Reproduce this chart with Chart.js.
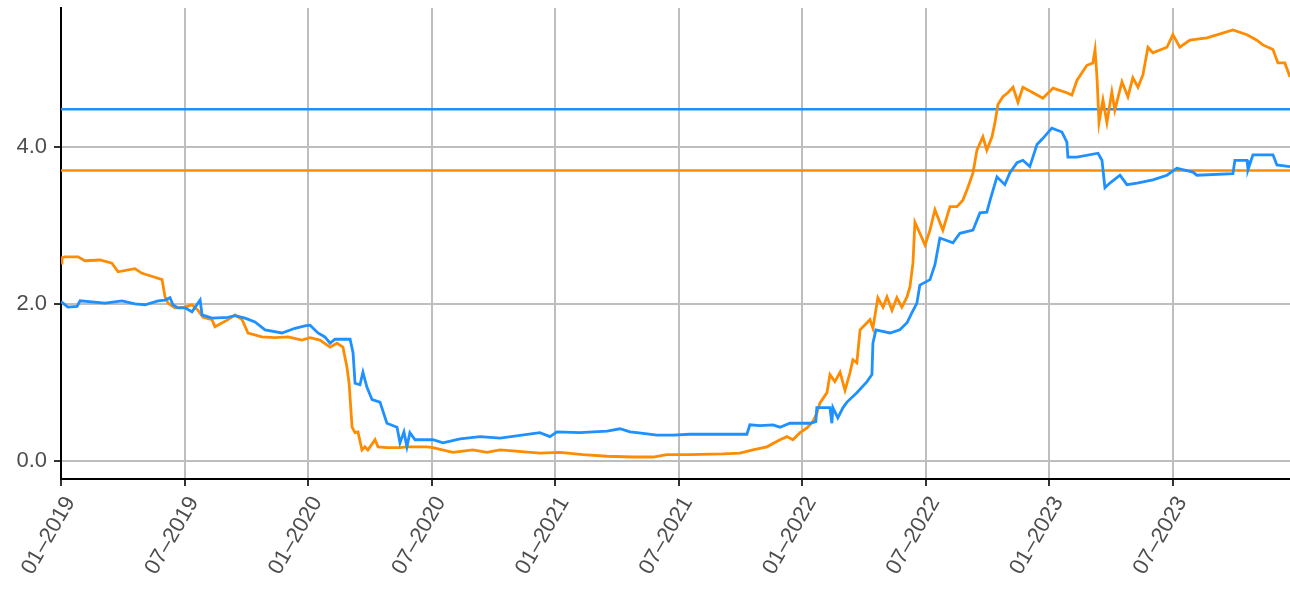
<!DOCTYPE html>
<html>
<head>
<meta charset="utf-8">
<script src="https://cdn.jsdelivr.net/npm/chart.js@4"></script>
<style>
  html, body { margin: 0; padding: 0; background: #fff; }
  #wrap { width: 1290px; height: 589px; }
</style>
</head>
<body>
<div id="wrap"><canvas id="rates" width="1290" height="589"></canvas></div>
<script>
// x = decimal year, y = rate
const orangeSeries = [
  [2019.000, 2.52], [2019.004, 2.59], [2019.016, 2.60], [2019.069, 2.60], [2019.097, 2.55],
  [2019.158, 2.56], [2019.206, 2.52], [2019.231, 2.41], [2019.299, 2.45], [2019.328, 2.39],
  [2019.380, 2.34], [2019.409, 2.31], [2019.421, 2.09], [2019.433, 2.01], [2019.461, 1.95],
  [2019.502, 1.96], [2019.530, 1.99], [2019.554, 1.92], [2019.575, 1.83], [2019.611, 1.80],
  [2019.623, 1.71], [2019.676, 1.80], [2019.704, 1.86], [2019.733, 1.80], [2019.757, 1.63],
  [2019.813, 1.58], [2019.866, 1.57], [2019.919, 1.58], [2019.975, 1.54], [2020.008, 1.57],
  [2020.048, 1.54], [2020.089, 1.45], [2020.117, 1.50], [2020.141, 1.45], [2020.157, 1.20],
  [2020.166, 0.99], [2020.178, 0.43], [2020.190, 0.36], [2020.202, 0.37], [2020.218, 0.14],
  [2020.230, 0.18], [2020.242, 0.14], [2020.271, 0.27], [2020.283, 0.18], [2020.319, 0.17],
  [2020.372, 0.17], [2020.400, 0.18], [2020.481, 0.18], [2020.505, 0.17], [2020.586, 0.11],
  [2020.667, 0.14], [2020.724, 0.11], [2020.777, 0.14], [2020.938, 0.10], [2021.019, 0.11],
  [2021.113, 0.08], [2021.210, 0.06], [2021.315, 0.05], [2021.396, 0.05], [2021.452, 0.08],
  [2021.545, 0.08], [2021.679, 0.09], [2021.748, 0.10], [2021.800, 0.14], [2021.857, 0.18],
  [2021.910, 0.27], [2021.938, 0.31], [2021.962, 0.27], [2021.991, 0.36], [2022.019, 0.42],
  [2022.043, 0.50], [2022.059, 0.61], [2022.072, 0.74], [2022.100, 0.87], [2022.112, 1.10],
  [2022.132, 1.01], [2022.153, 1.13], [2022.173, 0.90], [2022.193, 1.12], [2022.205, 1.29],
  [2022.221, 1.25], [2022.234, 1.67], [2022.262, 1.76], [2022.274, 1.80], [2022.286, 1.69],
  [2022.306, 2.08], [2022.327, 1.96], [2022.343, 2.09], [2022.363, 1.92], [2022.383, 2.08],
  [2022.403, 1.96], [2022.424, 2.09], [2022.436, 2.22], [2022.448, 2.52], [2022.456, 3.04],
  [2022.476, 2.90], [2022.497, 2.75], [2022.517, 2.94], [2022.537, 3.20], [2022.569, 2.94],
  [2022.598, 3.24], [2022.626, 3.24], [2022.650, 3.32], [2022.671, 3.49], [2022.691, 3.67],
  [2022.707, 3.96], [2022.731, 4.13], [2022.747, 3.96], [2022.768, 4.13], [2022.780, 4.31],
  [2022.792, 4.54], [2022.812, 4.64], [2022.832, 4.69], [2022.853, 4.76], [2022.873, 4.57],
  [2022.893, 4.76], [2022.934, 4.69], [2022.974, 4.62], [2023.015, 4.75], [2023.071, 4.69],
  [2023.091, 4.66], [2023.112, 4.85], [2023.152, 5.04], [2023.176, 5.07], [2023.185, 5.24],
  [2023.193, 4.88], [2023.201, 4.31], [2023.217, 4.60], [2023.233, 4.31], [2023.253, 4.70],
  [2023.265, 4.47], [2023.294, 4.83], [2023.318, 4.64], [2023.338, 4.88], [2023.359, 4.76],
  [2023.379, 4.92], [2023.399, 5.27], [2023.419, 5.20], [2023.476, 5.27], [2023.500, 5.43],
  [2023.528, 5.27], [2023.569, 5.36], [2023.638, 5.39], [2023.743, 5.49], [2023.800, 5.43],
  [2023.840, 5.36], [2023.864, 5.30], [2023.905, 5.24], [2023.925, 5.07], [2023.953, 5.07],
  [2023.974, 4.89]
];

const blueSeries = [
  [2019.000, 2.03], [2019.028, 1.96], [2019.065, 1.97], [2019.077, 2.04], [2019.178, 2.01],
  [2019.247, 2.04], [2019.299, 2.00], [2019.340, 1.99], [2019.393, 2.04], [2019.421, 2.05],
  [2019.441, 2.08], [2019.453, 1.99], [2019.473, 1.95], [2019.502, 1.95], [2019.530, 1.90],
  [2019.563, 2.05], [2019.571, 1.86], [2019.611, 1.82], [2019.676, 1.83], [2019.704, 1.85],
  [2019.745, 1.82], [2019.785, 1.77], [2019.826, 1.67], [2019.894, 1.63], [2019.947, 1.69],
  [2019.987, 1.72], [2020.008, 1.73], [2020.040, 1.63], [2020.068, 1.58], [2020.089, 1.50],
  [2020.109, 1.55], [2020.170, 1.55], [2020.182, 1.38], [2020.190, 0.99], [2020.210, 0.97],
  [2020.222, 1.13], [2020.238, 0.94], [2020.259, 0.78], [2020.291, 0.75], [2020.319, 0.48],
  [2020.360, 0.43], [2020.372, 0.23], [2020.388, 0.37], [2020.400, 0.18], [2020.412, 0.36],
  [2020.433, 0.27], [2020.505, 0.27], [2020.546, 0.23], [2020.615, 0.28], [2020.696, 0.31],
  [2020.777, 0.29], [2020.938, 0.36], [2020.979, 0.31], [2021.007, 0.37], [2021.100, 0.36],
  [2021.210, 0.38], [2021.262, 0.41], [2021.303, 0.37], [2021.331, 0.36], [2021.412, 0.33],
  [2021.477, 0.33], [2021.545, 0.34], [2021.679, 0.34], [2021.776, 0.34], [2021.788, 0.46],
  [2021.829, 0.45], [2021.881, 0.46], [2021.910, 0.43], [2021.950, 0.48], [2022.031, 0.48],
  [2022.055, 0.50], [2022.059, 0.68], [2022.112, 0.68], [2022.120, 0.48], [2022.124, 0.68],
  [2022.144, 0.55], [2022.165, 0.68], [2022.181, 0.75], [2022.221, 0.87], [2022.262, 1.01],
  [2022.282, 1.10], [2022.286, 1.50], [2022.298, 1.67], [2022.355, 1.63], [2022.395, 1.67],
  [2022.424, 1.76], [2022.444, 1.89], [2022.464, 2.01], [2022.476, 2.24], [2022.517, 2.31],
  [2022.537, 2.50], [2022.557, 2.84], [2022.610, 2.78], [2022.638, 2.90], [2022.691, 2.94],
  [2022.719, 3.16], [2022.747, 3.17], [2022.760, 3.32], [2022.788, 3.62], [2022.820, 3.52],
  [2022.840, 3.67], [2022.869, 3.80], [2022.893, 3.83], [2022.921, 3.75], [2022.950, 4.03],
  [2022.974, 4.11], [2023.010, 4.24], [2023.051, 4.19], [2023.071, 4.06], [2023.075, 3.87],
  [2023.112, 3.87], [2023.197, 3.92], [2023.213, 3.83], [2023.225, 3.48], [2023.245, 3.54],
  [2023.286, 3.64], [2023.314, 3.52], [2023.355, 3.54], [2023.419, 3.58], [2023.476, 3.64],
  [2023.516, 3.73], [2023.581, 3.68], [2023.597, 3.64], [2023.743, 3.66], [2023.751, 3.83],
  [2023.800, 3.83], [2023.804, 3.71], [2023.824, 3.90], [2023.905, 3.90], [2023.921, 3.77],
  [2023.974, 3.75]
];

// flat reference levels for each series
const blueLevel = 4.48;
const orangeLevel = 3.70;

const xTickValues = [2019, 2019.5, 2020, 2020.5, 2021, 2021.5, 2022, 2022.5, 2023, 2023.5];
const xTickLabels = ['01–2019', '07–2019', '01–2020', '07–2020', '01–2021',
                     '07–2021', '01–2022', '07–2022', '01–2023', '07–2023'];
const yTickValues = [0, 2, 4];

const xMin = 2019, xMax = 2023.974;
const yMin = -0.23, yMax = 5.77;

const BLUE = '#1e90ff';
const ORANGE = '#ff8c00';

const toPoints = arr => arr.map(p => ({ x: p[0], y: p[1] }));
const flat = v => [{ x: xMin, y: v }, { x: xMax, y: v }];

const lineStyle = (color, width) => ({
  borderColor: color,
  backgroundColor: color,
  borderWidth: width,
  pointRadius: 0,
  tension: 0,
  fill: false
});

const tickFont = { family: '"Liberation Sans", Arial, sans-serif', size: 22 };
const gridStyle = { color: '#bebebe', lineWidth: 2, tickColor: '#333', tickWidth: 2, tickLength: 7 };

new Chart(document.getElementById('rates').getContext('2d'), {
  type: 'line',
  data: {
    datasets: [
      { data: toPoints(blueSeries), order: 1, ...lineStyle(BLUE, 2.8) },
      { data: toPoints(orangeSeries), order: 2, ...lineStyle(ORANGE, 2.8) },
      { data: flat(blueLevel), order: 3, ...lineStyle(BLUE, 2.4) },
      { data: flat(orangeLevel), order: 4, ...lineStyle(ORANGE, 2.4) }
    ]
  },
  options: {
    responsive: false,
    animation: false,
    layout: { padding: { top: 8, right: 0, left: 0, bottom: 0 } },
    plugins: { legend: { display: false }, tooltip: { enabled: false } },
    scales: {
      x: {
        type: 'linear',
        min: xMin,
        max: xMax,
        afterBuildTicks: axis => { axis.ticks = xTickValues.map(v => ({ value: v })); },
        afterFit: axis => { axis.height = 110; axis.paddingRight = 0; },
        border: { color: '#000', width: 2 },
        grid: gridStyle,
        ticks: {
          autoSkip: false,
          minRotation: 60,
          maxRotation: 60,
          padding: 6,
          labelOffset: 9,
          color: '#4d4d4d',
          font: tickFont,
          callback: (value, i) => xTickLabels[i]
        }
      },
      y: {
        min: yMin,
        max: yMax,
        afterBuildTicks: axis => { axis.ticks = yTickValues.map(v => ({ value: v })); },
        afterFit: axis => { axis.width = 61; axis.paddingTop = 0; axis.paddingBottom = 0; },
        border: { color: '#000', width: 2 },
        grid: gridStyle,
        ticks: {
          padding: 7,
          color: '#4d4d4d',
          font: tickFont,
          callback: value => value.toFixed(1)
        }
      }
    }
  }
});
</script>
</body>
</html>
